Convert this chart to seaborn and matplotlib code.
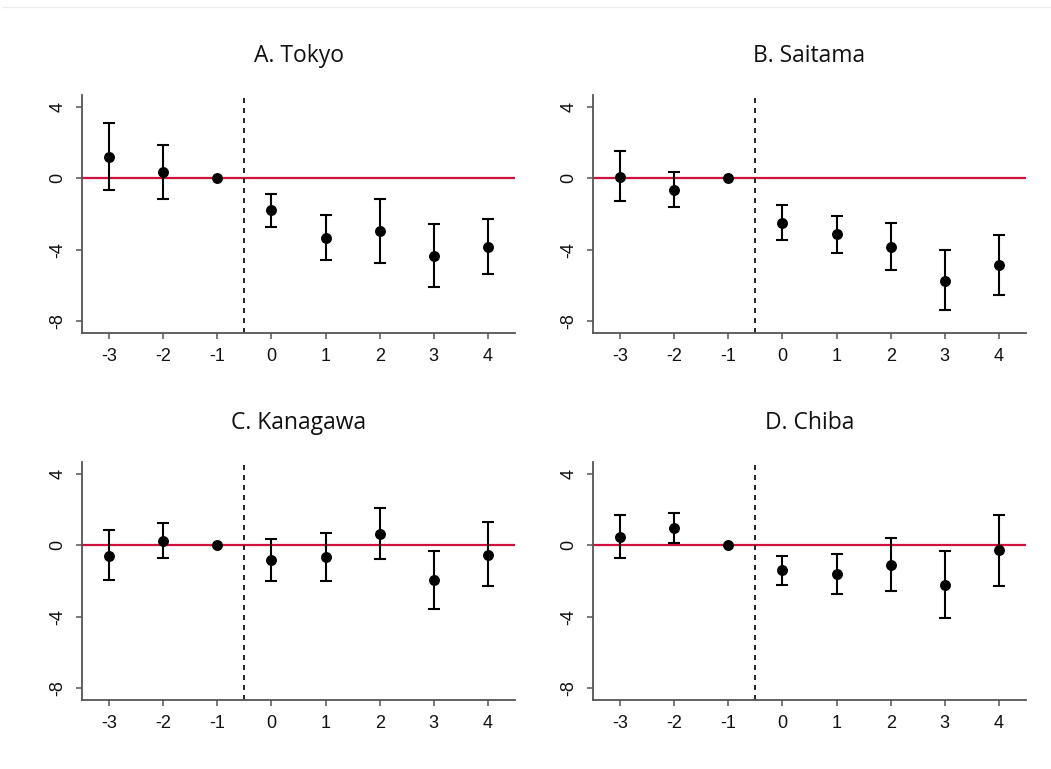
import numpy as np
import pandas as pd
import matplotlib
matplotlib.use("Agg")
import matplotlib.pyplot as plt
from matplotlib.lines import Line2D
import seaborn as sns

sns.set_theme(style="white")
plt.rcParams["font.family"] = ["Liberation Sans", "DejaVu Sans"]

# Event time relative to the policy change
event_time = [-3, -2, -1, 0, 1, 2, 3, 4]

titles = ["A. Tokyo", "B. Saitama", "C. Kanagawa", "D. Chiba"]

tokyo_est = [1.22, 0.37, 0.0, -1.78, -3.33, -2.96, -4.34, -3.86]
tokyo_lo = [-0.66, -1.14, 0.0, -2.72, -4.57, -4.74, -6.10, -5.37]
tokyo_hi = [3.11, 1.89, 0.0, -0.86, -2.08, -1.14, -2.57, -2.30]

saitama_est = [0.09, -0.66, 0.0, -2.51, -3.13, -3.84, -5.73, -4.85]
saitama_lo = [-1.29, -1.61, 0.0, -3.46, -4.18, -5.15, -7.38, -6.55]
saitama_hi = [1.54, 0.34, 0.0, -1.52, -2.10, -2.53, -4.04, -3.15]

kanagawa_est = [-0.58, 0.26, 0.0, -0.84, -0.65, 0.65, -1.96, -0.52]
kanagawa_lo = [-1.94, -0.69, 0.0, -2.00, -2.00, -0.75, -3.59, -2.28]
kanagawa_hi = [0.84, 1.25, 0.0, 0.36, 0.71, 2.07, -0.30, 1.29]

chiba_est = [0.49, 0.97, 0.0, -1.38, -1.59, -1.08, -2.21, -0.28]
chiba_lo = [-0.69, 0.15, 0.0, -2.21, -2.71, -2.56, -4.07, -2.26]
chiba_hi = [1.72, 1.79, 0.0, -0.58, -0.47, 0.43, -0.30, 1.70]

y_ticks = [4, 0, -4, -8]

panels = [
    (tokyo_est, tokyo_lo, tokyo_hi),
    (saitama_est, saitama_lo, saitama_hi),
    (kanagawa_est, kanagawa_lo, kanagawa_hi),
    (chiba_est, chiba_lo, chiba_hi),
]

W, H = 1051, 769
fig = plt.figure(figsize=(W / 100, H / 100), dpi=100)

# axes boxes in pixels: (left, top, right, bottom)
boxes = [(82, 95, 515, 333), (593, 95, 1026, 333),
         (82, 462, 515, 700), (593, 462, 1026, 700)]

spine_col = "#555555"
zero_col = "#D0103A"

for (est, lo, hi), title, (l, t, r, b) in zip(panels, titles, boxes):
    ax = fig.add_axes([l / W, 1 - b / H, (r - l) / W, (b - t) / H])
    df = pd.DataFrame({"t": event_time, "est": est, "lo": lo, "hi": hi})
    df["err_lo"] = df["est"] - df["lo"]
    df["err_hi"] = df["hi"] - df["est"]

    ax.axhline(0, color=zero_col, lw=1.6, zorder=1)
    ax.axvline(-0.5, color="black", lw=1.2, ls=(0, (3, 3)), zorder=1)

    ci = df[(df["err_lo"] > 0) | (df["err_hi"] > 0)]
    ax.errorbar(ci["t"], ci["est"], yerr=[ci["err_lo"], ci["err_hi"]],
                fmt="none", ecolor="black", elinewidth=1.5,
                capsize=4, capthick=1.5, zorder=2)
    sns.scatterplot(data=df, x="t", y="est", ax=ax, color="black",
                    s=62, edgecolor="black", linewidth=0, zorder=3)

    ax.set_xlim(-3.5, 4.5)
    ax.set_ylim(-8.67, 4.67)
    ax.set_xticks(event_time)
    ax.set_xticklabels([str(v) for v in event_time])
    ax.set_yticks(y_ticks)
    ax.set_yticklabels([str(v) for v in y_ticks], rotation=90, va="center")
    ax.set_xlabel("")
    ax.set_ylabel("")

    for side in ["top", "right"]:
        ax.spines[side].set_visible(False)
    for side in ["left", "bottom"]:
        ax.spines[side].set_color(spine_col)
        ax.spines[side].set_linewidth(1.3)
    ax.tick_params(axis="both", direction="out", length=4.5, width=1.1,
                   color=spine_col, labelsize=13, labelcolor="#111111",
                   pad=6.5, left=True, bottom=True)

    ax.set_title(title, fontsize=16.5, family=["Open Sans", "DejaVu Sans"],
                 color="#111111", pad=24)

# thin rule along the top edge
fig.add_artist(Line2D([3 / W, 1], [1 - 7 / H, 1 - 7 / H],
                      transform=fig.transFigure, color="#ececec", lw=1))

fig.savefig("out.png", dpi=100, facecolor="white")
